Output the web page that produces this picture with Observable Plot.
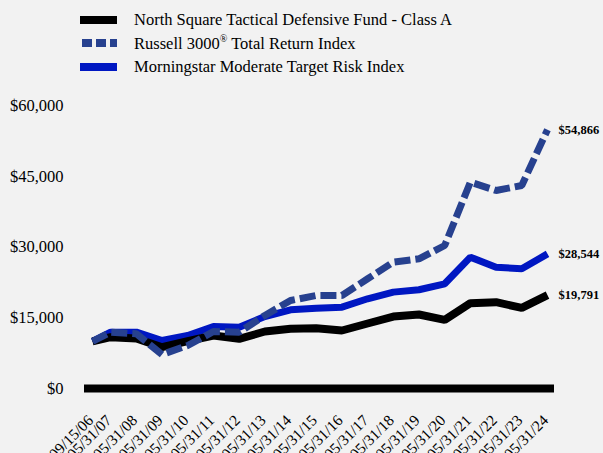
<!DOCTYPE html>
<html><head><meta charset="utf-8">
<script src="https://cdn.jsdelivr.net/npm/d3@7"></script>
<script src="https://cdn.jsdelivr.net/npm/@observablehq/plot@0.6"></script>
<style>
body{margin:0;background:#f2f2f2;font-family:"Liberation Serif","Times New Roman",serif;}
#legend{position:relative;height:80px;width:603px;}
.item{position:absolute;left:80px;height:20px;display:flex;align-items:center;font-size:16.5px;color:#000;white-space:nowrap;}
.item svg{margin-right:17px;}
sup{font-size:10px;vertical-align:7px;}
</style></head><body>
<div id="legend"></div><div id="chart"></div>
<script>
const dateLabels = ["09/15/06","05/31/07","05/31/08","05/31/09","05/31/10","05/31/11","05/31/12","05/31/13","05/31/14","05/31/15","05/31/16","05/31/17","05/31/18","05/31/19","05/31/20","05/31/21","05/31/22","05/31/23","05/31/24"];
const fund = [10000,10880,10600,8760,10030,11240,10530,12080,12650,12790,12300,13780,15260,15690,14560,18090,18300,17110,19791];
const russell = [10000,11940,11590,7210,9120,12080,11950,15480,18660,19720,19720,23260,26790,27500,30320,43750,41980,43040,54866];
const morningstar = [10000,11940,11940,10180,11240,13140,13000,15260,16680,17030,17240,19020,20430,20930,22200,27850,25730,25380,28544];
const seriesNames = ["North Square Tactical Defensive Fund - Class A","Russell 3000® Total Return Index","Morningstar Moderate Target Risk Index"];
const legendHtml = ["North Square Tactical Defensive Fund - Class A","Russell 3000<sup>®</sup> Total Return Index","Morningstar Moderate Target Risk Index"];
const colors = ["#000000","#27418f","#0017c2"];
const dashes = [null,"16,5",null];
const widths = [8,7,7];
const yTicks = [0,15000,30000,45000,60000];

const parse = d3.utcParse("%m/%d/%y");
const dates = dateLabels.map(parse);
const valueSets = [fund, russell, morningstar];
const table = [];
valueSets.forEach((vals,s)=>vals.forEach((v,i)=>table.push({series:seriesNames[s], date:dates[i], value:v})));

// legend
const leg = document.getElementById("legend");
const tops = [10,33,57];
seriesNames.forEach((n,i)=>{
  const div = document.createElement("div");
  div.className="item";
  div.style.top = tops[i]+"px";
  div.innerHTML = `<svg width="37" height="20"><line x1="0" x2="37" y1="10" y2="10" stroke="${colors[i]}" stroke-width="8" ${dashes[i]?`stroke-dasharray="10,4" stroke-dashoffset="-2"`:""}/></svg><span>${legendHtml[i]}</span>`;
  leg.appendChild(div);
});

const lineMarks = [2,0,1].map(s => Plot.line(table.filter(d=>d.series===seriesNames[s]), {
  x:"date", y:"value", stroke: colors[s], strokeWidth: widths[s],
  strokeDasharray: dashes[s] || undefined, strokeLinejoin:"miter", strokeLinecap:"butt"
}));

const last = dates.length-1;
const endLabels = valueSets.map((vals,s)=>({date:dates[last], value:vals[last]}));

const chart = Plot.plot({
  width:603, height:373,
  marginTop:25, marginBottom:65, marginLeft:84, marginRight:49,
  style:{background:"#f2f2f2", fontFamily:"'Liberation Serif','Times New Roman',serif", fontSize:"16px", color:"#000"},
  x:{type:"utc", domain:[dates[0], dates[last]], insetLeft:8, insetRight:7, axis:null},
  y:{domain:[0,60000], axis:null},
  marks:[
    Plot.axisY({ticks:yTicks, tickFormat:d=>"$"+d3.format(",")(d), tickSize:0, tickPadding:21, fontSize:16.5, label:null}),
    Plot.ruleY([0], {strokeWidth:8, stroke:"#000"}),
    ...lineMarks,
    Plot.text(endLabels, {x:"date", y:"value", text:d=>"$"+d3.format(",")(d.value), textAnchor:"start", dx:11, fontWeight:"bold", fontSize:12.5}),
    Plot.text(dates, {x:d=>d, frameAnchor:"bottom", text:(d,i)=>dateLabels[i], rotate:-45, textAnchor:"end", lineAnchor:"top", dx:-6, dy:25, fontSize:15.5})
  ]
});
document.getElementById("chart").appendChild(chart);
</script>
</body></html>
